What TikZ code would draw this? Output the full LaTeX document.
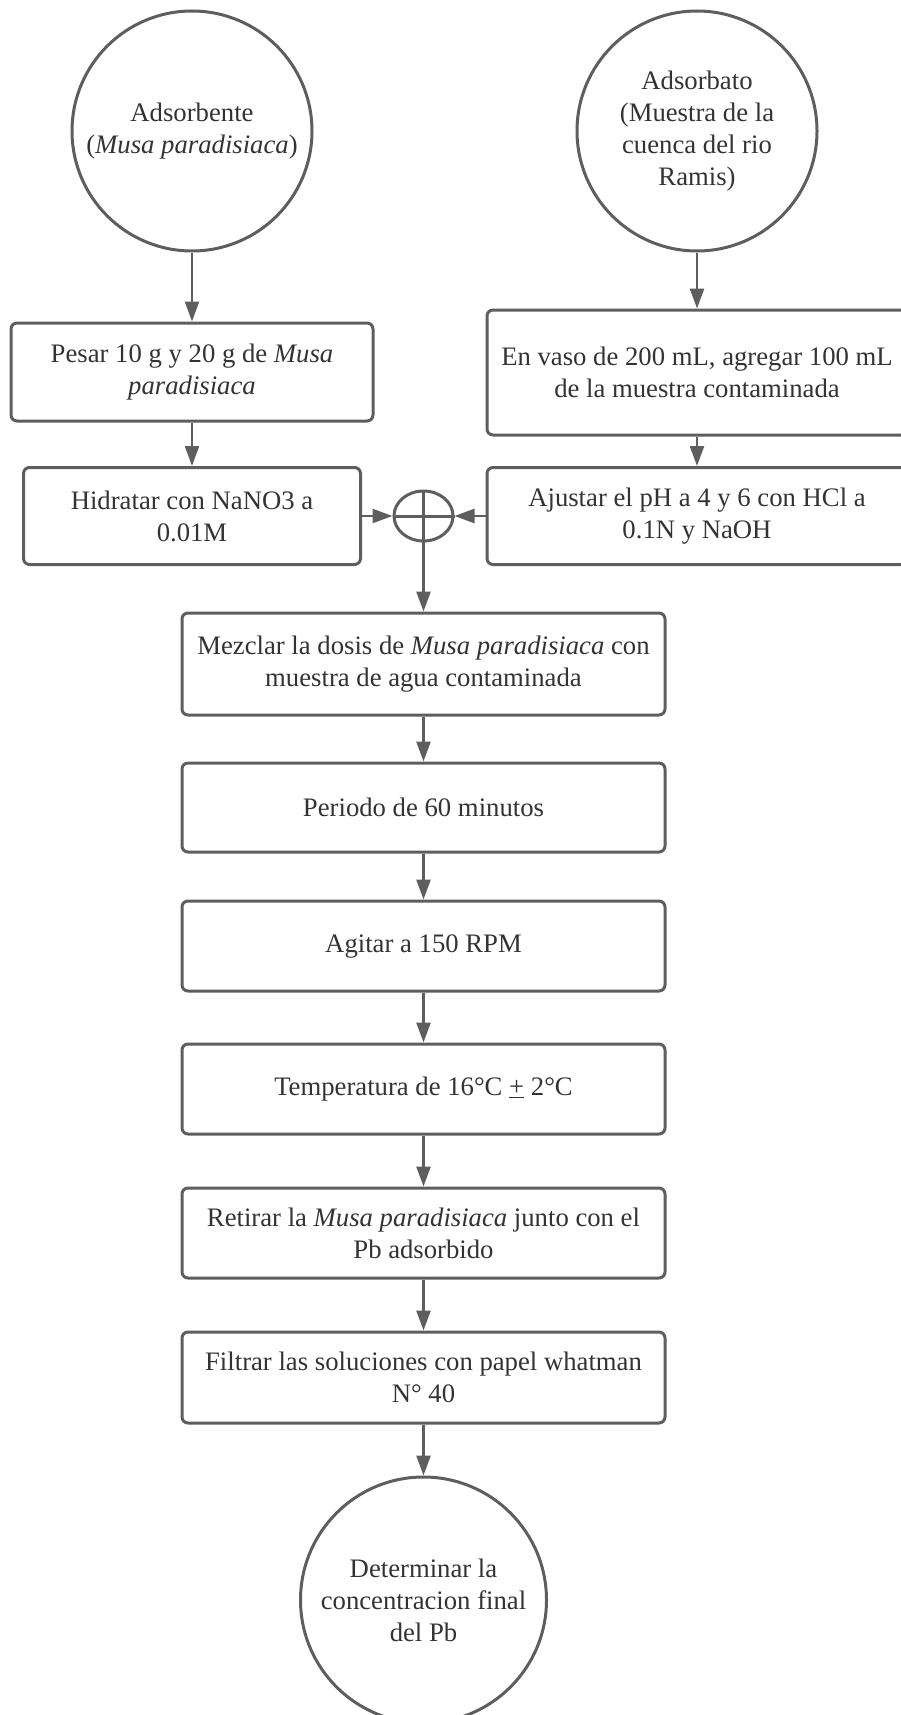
\documentclass[tikz,border=0pt]{standalone}
\usepackage{fontspec}
\setmainfont{Liberation Serif}
\usetikzlibrary{arrows.meta,shapes.geometric}
\definecolor{linegray}{HTML}{5E5E5E}
\definecolor{textgray}{HTML}{333333}

\begin{document}
\begin{tikzpicture}
[x=1pt,y=-1pt,
 proc/.style={rectangle,rounded corners=6pt,draw=linegray,line width=3pt,text=textgray,align=center,inner sep=0pt,font=\fontsize{26.7}{32}\selectfont},
 term/.style={circle,draw=linegray,line width=3pt,text=textgray,align=center,inner sep=0pt,font=\fontsize{26.7}{32}\selectfont},
 sumjunc/.style={ellipse,draw=linegray,line width=3pt,inner sep=0pt,minimum width=59pt,minimum height=50pt},
 flow/.style={draw=linegray,line width=2.5pt,-{Triangle[length=20pt,width=14pt]}}]
\useasboundingbox (0,0) rectangle (901,1715);
\clip (0,0) rectangle (901,1715);

\node[term,minimum size=240pt] (adsorbente) at (192,131) {Adsorbente\\(\textit{Musa paradisiaca})};
\node[term,minimum size=240pt] (adsorbato) at (697,131) {Adsorbato\\(Muestra de la\\cuenca del rio\\Ramis)};

\node[proc,minimum width=362pt,minimum height=98pt] (pesar) at (192,372) {Pesar 10 g y 20 g de \textit{Musa}\\\textit{paradisiaca}};
\node[proc,minimum width=337pt,minimum height=97pt] (hidratar) at (192,516) {Hidratar con NaNO3 a\\0.01M};
\node[proc,minimum width=420pt,minimum height=125pt] (vaso) at (697,372.5) {En vaso de 200 mL, agregar 100 mL\\de la muestra contaminada};
\node[proc,minimum width=420pt,minimum height=97pt] (ajustar) at (697,516) {Ajustar el pH a 4 y 6 con HCl a\\0.1N y NaOH};

\node[sumjunc] (suma) at (423.5,516) {};

\node[proc,minimum width=483pt,minimum height=102pt] (mezclar) at (423.5,664) {Mezclar la dosis de \textit{Musa paradisiaca} con\\muestra de agua contaminada};
\node[proc,minimum width=483pt,minimum height=89pt] (periodo) at (423.5,807.5) {Periodo de 60 minutos};
\node[proc,minimum width=483pt,minimum height=90pt] (agitar) at (423.5,946) {Agitar a 150 RPM};
\node[proc,minimum width=483pt,minimum height=90pt] (temp) at (423.5,1089) {Temperatura de 16°C \underline{+} 2°C};
\node[proc,minimum width=483pt,minimum height=90pt] (retirar) at (423.5,1233) {Retirar la \textit{Musa paradisiaca} junto con el\\Pb adsorbido};
\node[proc,minimum width=483pt,minimum height=91pt] (filtrar) at (423.5,1377.5) {Filtrar las soluciones con papel whatman\\N° 40};

\node[term,minimum size=246pt] (final) at (423.5,1600) {Determinar la\\concentracion final\\del Pb};

\draw [linegray,line width=3pt] (suma.north) -- (suma.south) (suma.west) -- (suma.east);

\draw [flow] (adsorbente) -- (pesar);
\draw [flow] (pesar) -- (hidratar);
\draw [flow] (adsorbato) -- (vaso);
\draw [flow] (vaso) -- (ajustar);
\draw [flow] (hidratar) -- (suma);
\draw [flow] (ajustar) -- (suma);
\draw [flow] (suma) -- (mezclar);
\draw [flow] (mezclar) -- (periodo);
\draw [flow] (periodo) -- (agitar);
\draw [flow] (agitar) -- (temp);
\draw [flow] (temp) -- (retirar);
\draw [flow] (retirar) -- (filtrar);
\draw [flow] (filtrar) -- (final);
\end{tikzpicture}
\end{document}
